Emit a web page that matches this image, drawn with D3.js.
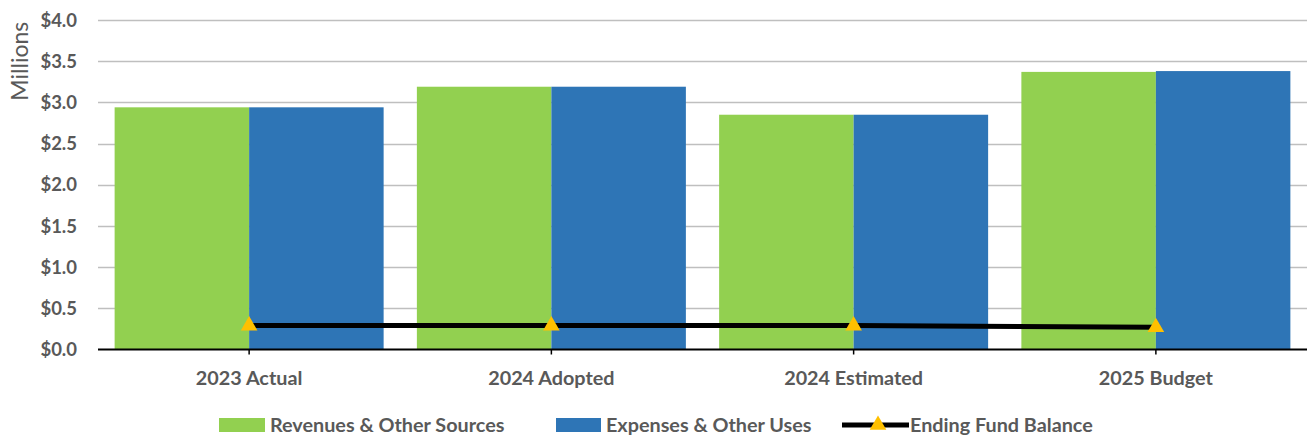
<!DOCTYPE html>
<html><head><meta charset="utf-8">
<script src="https://cdn.jsdelivr.net/npm/d3@7"></script>
<style>
body{margin:0;background:#fff;}
text{font-family:Lato,"Open Sans",sans-serif;}
</style></head>
<body><svg id="c" width="1307" height="437"></svg>
<script>
const categories = ["2023 Actual","2024 Adopted","2024 Estimated","2025 Budget"];
const revenues = [2.94, 3.19, 2.85, 3.37];
const expenses = [2.94, 3.19, 2.85, 3.38];
const endingBalance = [0.29, 0.29, 0.29, 0.27];
const yTicks = [0,0.5,1.0,1.5,2.0,2.5,3.0,3.5,4.0];
const seriesNames = ["Revenues & Other Sources","Expenses & Other Uses","Ending Fund Balance"];
const colors = ["#92D050","#2E75B6","#000000","#FFC000"];

const svg = d3.select("#c");
const m = {left:98, right:0, top:20, bottom:87.5};
const W = 1307, H = 437;
const x = d3.scaleBand().domain(categories).range([m.left, W-m.right]).paddingInner(0.11).paddingOuter(0.055);
const x0 = d3.scaleBand().domain(categories).range([m.left, W-m.right]);
const y = d3.scaleLinear().domain([0,4]).range([H-m.bottom, m.top]);
const sub = d3.scaleBand().domain([0,1]).range([0, x.bandwidth()]);
const labelColor = "#595959";

// gridlines
svg.append("g").selectAll("line").data(yTicks.filter(d=>d>0)).join("line")
  .attr("x1", m.left).attr("x2", W-m.right)
  .attr("y1", d=>Math.round(y(d))+0.5).attr("y2", d=>Math.round(y(d))+0.5)
  .attr("stroke","#BFBFBF").attr("stroke-width",1.5);

// y labels
const fmt = d3.format("$.1f");
svg.append("g").selectAll("text").data(yTicks).join("text")
  .attr("x", 77).attr("y", d=>y(d)).attr("dy","0.36em")
  .attr("text-anchor","end").attr("font-size",18.5).attr("font-weight","bold").attr("fill",labelColor)
  .text(d=>fmt(d));

svg.append("text").attr("transform",`translate(20,${(y(4)+y(3))/2}) rotate(-90)`)
  .attr("text-anchor","middle").attr("dy","0.36em").attr("font-size",23).attr("fill",labelColor).text("Millions");

// bars
const g = svg.append("g");
[revenues, expenses].forEach((vals,si)=>{
  g.append("g").selectAll("rect").data(vals).join("rect")
    .attr("x",(d,i)=>x(categories[i])+sub(si)).attr("width",sub.bandwidth())
    .attr("y",d=>y(d)).attr("height",d=>y(0)-y(d)).attr("fill",colors[si]);
});

// x axis
const xa = svg.append("g");
xa.append("line").attr("x1",m.left).attr("x2",W).attr("y1",y(0)).attr("y2",y(0)).attr("stroke","#000").attr("stroke-width",2);
xa.selectAll(".tk").data(categories).join("line")
  .attr("x1",d=>x0(d)+x0.bandwidth()/2).attr("x2",d=>x0(d)+x0.bandwidth()/2)
  .attr("y1",y(0)).attr("y2",y(0)+5).attr("stroke","#000").attr("stroke-width",1.5);
xa.selectAll("text").data(categories).join("text")
  .attr("x",d=>x0(d)+x0.bandwidth()/2).attr("y",y(0)+28.5).attr("dy","0.36em").attr("text-anchor","middle")
  .attr("font-size",19.8).attr("font-weight","bold").attr("fill",labelColor).text(d=>d);

// line
const cx = d=>x0(d)+x0.bandwidth()/2;
const line = d3.line().x((d,i)=>cx(categories[i])).y(d=>y(d));
svg.append("path").datum(endingBalance).attr("d",line).attr("fill","none").attr("stroke","#000").attr("stroke-width",5);
const tri = d3.symbol().type(d3.symbolTriangle).size(120);
svg.append("g").selectAll("path").data(endingBalance).join("path")
  .attr("transform",(d,i)=>`translate(${cx(categories[i])},${y(d)})`).attr("d",tri).attr("fill",colors[3]);

// legend
const lg = svg.append("g");
const ly = 425;
const fs = 19.8;
lg.append("rect").attr("x",219).attr("y",ly-7).attr("width",46).attr("height",14).attr("fill",colors[0]);
lg.append("text").attr("x",270).attr("y",ly).attr("dy","0.36em").attr("font-size",fs).attr("font-weight","bold").attr("fill",labelColor).text(seriesNames[0]);
lg.append("rect").attr("x",556).attr("y",ly-7).attr("width",45).attr("height",14).attr("fill",colors[1]);
lg.append("text").attr("x",606).attr("y",ly).attr("dy","0.36em").attr("font-size",fs).attr("font-weight","bold").attr("fill",labelColor).text(seriesNames[1]);
lg.append("line").attr("x1",842).attr("x2",909).attr("y1",ly).attr("y2",ly).attr("stroke","#000").attr("stroke-width",5);
lg.append("path").attr("transform",`translate(878,${ly})`).attr("d",tri).attr("fill",colors[3]);
lg.append("text").attr("x",910).attr("y",ly).attr("dy","0.36em").attr("font-size",fs).attr("font-weight","bold").attr("fill",labelColor).text(seriesNames[2]);
</script></body></html>
